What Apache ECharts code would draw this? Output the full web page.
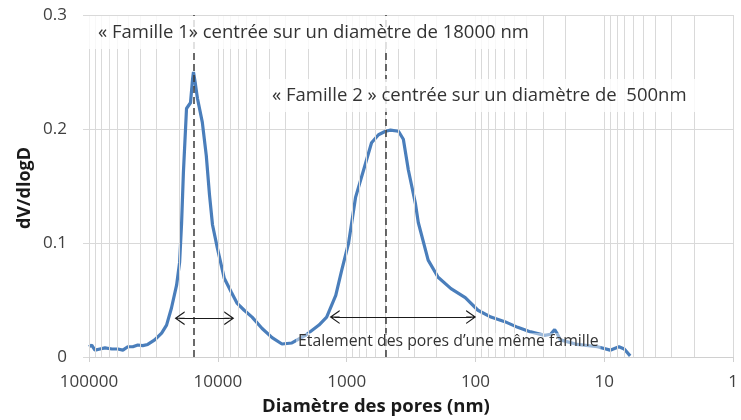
<!DOCTYPE html>
<html>
<head>
<meta charset="utf-8">
<script src="https://cdn.jsdelivr.net/npm/echarts@6/dist/echarts.min.js"></script>
<style>html,body{margin:0;padding:0;background:#fff}#c{width:741px;height:420px}</style>
</head>
<body>
<div id="c"></div>
<script>
// Pore diameter (nm) and dV/dlogD values
const diameters = [100000, 95300, 89900, 82200, 75200, 66400, 59700, 54600, 50000, 45700, 41800, 38300, 35000, 30900, 27300, 25000, 22900, 20900, 19800, 19100, 18500, 17500, 16300, 15700, 15450, 15000, 14400, 13200, 12300, 11600, 11000, 10100, 8910, 7870, 7070, 6240, 5420, 4530, 3790, 3180, 2660, 2070, 1640, 1430, 1215, 1093, 966, 853, 713, 641, 566, 500, 457, 396, 363, 332, 293, 278, 233, 195, 155, 120, 95.7, 75.9, 59.2, 47.0, 37.3, 29.0, 26.1, 24.3, 23.1, 21.9, 16.2, 11.3, 9.0, 7.7, 7.0, 6.3];
const dVdlogD = [0.009, 0.0105, 0.006, 0.007, 0.008, 0.007, 0.007, 0.006, 0.009, 0.009, 0.0105, 0.010, 0.011, 0.015, 0.021, 0.028, 0.043, 0.063, 0.083, 0.118, 0.162, 0.218, 0.223, 0.244, 0.250, 0.241, 0.227, 0.206, 0.177, 0.142, 0.116, 0.096, 0.069, 0.057, 0.047, 0.041, 0.035, 0.025, 0.017, 0.0114, 0.0123, 0.0193, 0.028, 0.035, 0.054, 0.076, 0.100, 0.140, 0.170, 0.188, 0.195, 0.198, 0.199, 0.198, 0.191, 0.164, 0.135, 0.118, 0.085, 0.070, 0.060, 0.052, 0.041, 0.035, 0.031, 0.026, 0.022, 0.019, 0.020, 0.024, 0.020, 0.015, 0.011, 0.009, 0.006, 0.009, 0.007, 0.001];

// Axis / annotation values
const xTickLabels = [100000, 10000, 1000, 100, 10, 1];
const yTicks = [0, 0.1, 0.2, 0.3];
const family1Center = 15450;
const family2Center = 500;
const spread1 = [19800, 8150, 0.034];
const spread2 = [1240, 108, 0.035];

const xTitle = 'Diamètre des pores (nm)';
const yTitle = 'dV/dlogD';
const label1 = '« Famille 1» centrée sur un diamètre de 18000 nm';
const label2 = '« Famille 2 » centrée sur un diamètre de  500nm';
const label3 = 'Etalement des pores d\u2019une même famille';

const FONT = '"Open Sans", "Liberation Sans", sans-serif';
const gridColor = '#d9d9d9';

// log gridline positions (2..9 × 10^n and decades)
const gridXs = [];
for (let e = 0; e < 5; e++) {
  for (let m = 1; m <= 9; m++) gridXs.push(m * Math.pow(10, e));
}
gridXs.push(100000);

// open chevron with a short shaft reaching the symbol centre
const chevron = 'path://M0,10 L5,0 L10,10 L9,10 L5,2 L1,10 Z M4.6,1 L5.4,1 L5.4,10 L4.6,10 Z';

const chart = echarts.init(document.getElementById('c'), null, {renderer: 'canvas'});
chart.setOption({
  animation: false,
  backgroundColor: '#fff',
  grid: {left: 89, right: 4.5, top: 15, bottom: 63, containLabel: false},
  xAxis: {
    type: 'log', logBase: 10, min: 1, max: 100000, inverse: true,
    axisLine: {show: true, lineStyle: {color: '#d0d0d0', width: 1}},
    axisTick: {show: true, length: 5, lineStyle: {color: '#d0d0d0'}},
    splitLine: {show: false},
    axisLabel: {
      margin: 17, color: '#404040', fontFamily: FONT, fontSize: 17,
      formatter: v => String(Math.round(v))
    }
  },
  yAxis: {
    type: 'value', min: 0, max: 0.3, interval: 0.1,
    axisLine: {show: false},
    axisTick: {show: true, length: 6, lineStyle: {color: gridColor}},
    splitLine: {show: true, lineStyle: {color: gridColor, width: 1}},
    axisLabel: {margin: 22, color: '#404040', fontFamily: FONT, fontSize: 17,
      formatter: v => String(Math.round(v * 10) / 10)}
  },
  series: [
    {
      type: 'line', data: [], z: 1, silent: true,
      markLine: {
        silent: true, symbol: 'none', animation: false,
        label: {show: false},
        lineStyle: {color: gridColor, width: 1, type: 'solid'},
        data: gridXs.map(v => ({xAxis: v}))
      }
    },
    {
      type: 'line', z: 3,
      data: diameters.map((d, i) => [d, dVdlogD[i]]),
      showSymbol: false, smooth: false,
      lineStyle: {color: '#4A7EBB', width: 3.2},
      itemStyle: {color: '#4A7EBB'},
      markLine: {
        silent: true, animation: false, label: {show: false},
        symbol: 'none',
        lineStyle: {color: '#3a3a3a', width: 1.5, type: [7, 4]},
        data: [
          [{coord: [family1Center, 0]}, {coord: [family1Center, 0.3]}],
          [{coord: [family2Center, 0]}, {coord: [family2Center, 0.3]}]
        ]
      }
    },
    {
      type: 'line', data: [], z: 4, silent: true,
      markLine: {
        silent: true, animation: false, label: {show: false},
        symbol: [chevron, chevron], symbolSize: [14, 10],
        lineStyle: {color: '#1a1a1a', width: 1, type: 'solid'},
        data: [
          [{coord: [spread1[0], spread1[2]]}, {coord: [spread1[1], spread1[2]]}],
          [{coord: [spread2[0], spread2[2]]}, {coord: [spread2[1], spread2[2]]}]
        ]
      }
    }
  ],
  graphic: [
    {type: 'text', z: 10, x: 86, y: 16, style: {text: label1, font: '18.5px ' + FONT, fill: '#333',
      backgroundColor: 'rgba(255,255,255,0.8)', padding: [7, 12, 7, 12]}},
    {type: 'text', z: 10, x: 262, y: 79, style: {text: label2, font: '18.5px ' + FONT, fill: '#333',
      backgroundColor: 'rgba(255,255,255,0.8)', padding: [7, 10, 7, 10]}},
    {type: 'text', z: 10, x: 296, y: 333, style: {text: label3, font: '15.8px ' + FONT, fill: '#333',
      backgroundColor: 'rgba(255,255,255,0.45)', padding: [0, 2, 0, 2]}},
    {type: 'text', z: 10, x: 376, y: 407, style: {text: xTitle, font: 'bold 18.5px ' + FONT, fill: '#1a1a1a',
      align: 'center', verticalAlign: 'middle'}},
    {type: 'text', z: 10, x: 25, y: 188, rotation: Math.PI / 2, style: {text: yTitle, font: 'bold 18px ' + FONT, fill: '#1a1a1a',
      align: 'center', verticalAlign: 'middle'}}
  ]
});
</script>
</body>
</html>
